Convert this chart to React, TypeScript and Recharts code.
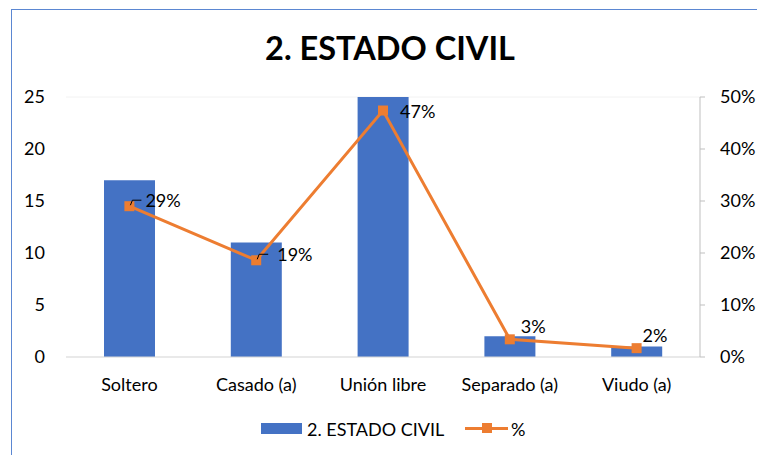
import React from 'react';
import {
  ComposedChart,
  Bar,
  Line,
  XAxis,
  YAxis,
  CartesianGrid,
  Legend,
  LabelList,
} from 'recharts';

const categories = ['Soltero', 'Casado (a)', 'Unión libre', 'Separado (a)', 'Viudo (a)'];
const counts = [17, 11, 25, 2, 1];
const percents = [0.29, 0.186, 0.474, 0.034, 0.017];
const leftTicks = [0, 5, 10, 15, 20, 25];
const rightTicks = [0, 0.1, 0.2, 0.3, 0.4, 0.5];

const BLUE = '#4472C4';
const ORANGE = '#ED7D31';
const FONT = 'Lato, "Open Sans", sans-serif';
const FS = 18;

const chartData = categories.map((name, i) => ({
  name,
  count: counts[i],
  pct: percents[i],
}));

// label offsets per point
const labelShift = [
  { dx: 16, dy: -6, leader: true },
  { dx: 21, dy: -6, leader: true },
  { dx: 17, dy: 1, leader: false },
  { dx: 11, dy: -13, leader: false },
  { dx: 6, dy: -12, leader: false },
];

function SquareDot(props: any) {
  const { cx, cy } = props;
  if (cx == null || cy == null) return null;
  return <rect x={cx - 5} y={cy - 5} width={10} height={10} fill={ORANGE} />;
}

function PctLabel(props: any) {
  const { x, y, value, index } = props;
  const s = labelShift[index];
  return (
    <g>
      {s.leader && (
        <polyline
          points={`${x + 1},${y - 1} ${x + 3},${y - 6} ${x + 12},${y - 6}`}
          fill="none"
          stroke="#000"
          strokeWidth={1}
        />
      )}
      <text
        x={x + s.dx}
        y={y + s.dy}
        dy="0.35em"
        fontSize={FS}
        fontFamily={FONT}
        fill="#000"
      >
        {Math.round(value * 100) + '%'}
      </text>
    </g>
  );
}

function LegendBox() {
  return (
    <div style={{ position: 'relative', height: 40, fontFamily: FONT, fontSize: FS, color: '#000' }}>
      <div style={{ position: 'absolute', left: 261, top: 13, width: 41, height: 11, background: BLUE }} />
      <div style={{ position: 'absolute', left: 307, top: 8, lineHeight: '22px' }}>2. ESTADO CIVIL</div>
      <div style={{ position: 'absolute', left: 465, top: 17, width: 43, height: 3, background: ORANGE }} />
      <div style={{ position: 'absolute', left: 482, top: 13, width: 10, height: 10, background: ORANGE }} />
      <div style={{ position: 'absolute', left: 511, top: 8, lineHeight: '22px' }}>%</div>
    </div>
  );
}

export default function App() {
  return (
    <div style={{ position: 'absolute', left: 0, top: 0, width: 757, height: 455, background: '#fff', overflow: 'hidden' }}>
      <div
        style={{
          position: 'absolute',
          left: 11,
          top: 9,
          width: 770,
          height: 470,
          border: '1px solid #5B87D2',
          boxSizing: 'border-box',
        }}
      />
      <div
        style={{
          position: 'absolute',
          left: 0,
          top: 27,
          width: 780,
          textAlign: 'center',
          fontFamily: FONT,
          fontWeight: 700,
          fontSize: 32.5,
          lineHeight: '42px',
          color: '#000',
        }}
      >
        2. ESTADO CIVIL
      </div>
      <div style={{ position: 'absolute', left: 0, top: 0 }}>
        <ComposedChart
          width={757}
          height={455}
          data={chartData}
          margin={{ top: 97, right: 0, left: 0, bottom: 5 }}
        >
          <CartesianGrid vertical={false} stroke="#F2F2F2" />
          <XAxis
            dataKey="name"
            height={53}
            tickLine={false}
            tickMargin={15}
            axisLine={{ stroke: '#D9D9D9' }}
            tick={{ fill: '#000', fontSize: FS, fontFamily: FONT }}
          />
          <YAxis
            yAxisId="left"
            width={66}
            domain={[0, 25]}
            ticks={leftTicks}
            tickLine={false}
            axisLine={false}
            tickMargin={15}
            tick={{ fill: '#000', fontSize: FS, fontFamily: FONT }}
          />
          <YAxis
            yAxisId="right"
            orientation="right"
            width={57}
            domain={[0, 0.5]}
            ticks={rightTicks}
            tickSize={5}
            tickMargin={15}
            axisLine={{ stroke: '#BFBFBF' }}
            tickLine={{ stroke: '#BFBFBF' }}
            tickFormatter={(v: number) => Math.round(v * 100) + '%'}
            tick={{ fill: '#000', fontSize: FS, fontFamily: FONT, textAnchor: 'start' }}
          />
          <Legend verticalAlign="bottom" height={40} content={() => <LegendBox />} />
          <Bar yAxisId="left" dataKey="count" fill={BLUE} barSize={51} isAnimationActive={false} />
          <Line
            yAxisId="right"
            dataKey="pct"
            stroke={ORANGE}
            strokeWidth={3}
            dot={<SquareDot />}
            activeDot={false}
            isAnimationActive={false}
          >
            <LabelList dataKey="pct" content={<PctLabel />} />
          </Line>
        </ComposedChart>
      </div>
    </div>
  );
}
